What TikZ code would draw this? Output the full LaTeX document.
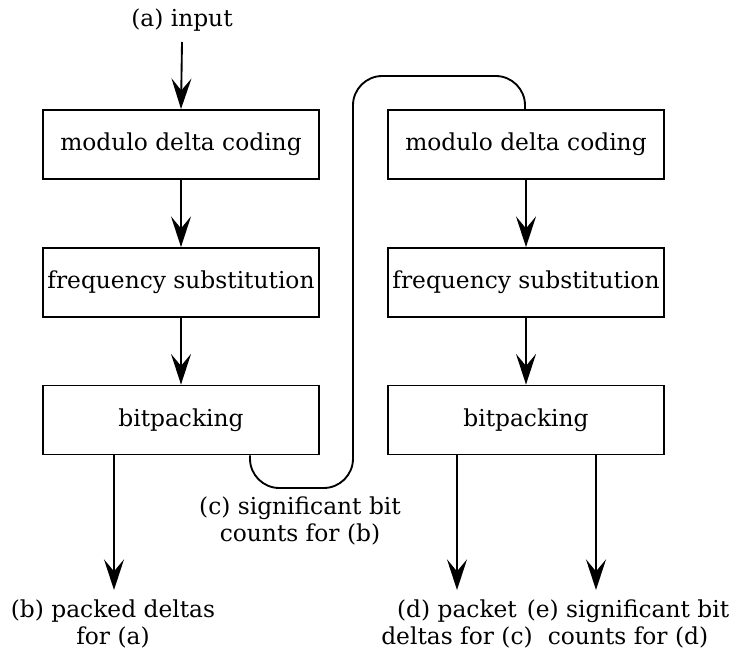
\documentclass[tikz,border=0pt]{standalone}
\usepackage{fontspec}
\setmainfont{DejaVu Serif}
\usepackage{tikz}
\usetikzlibrary{arrows.meta}

\tikzset{
  stage/.style={draw, line width=1.4pt, minimum width=207pt, minimum height=51.75pt, inner sep=0pt},
  label/.style={align=center, inner sep=0pt},
  flow/.style={line width=1.4pt, -{Stealth[length=23pt, width=15pt, inset=9pt]}},
}

\begin{document}
\begin{tikzpicture}[x=0.75pt, y=-0.75pt, font=\fontsize{17.5}{20}\selectfont]
\useasboundingbox (0,0) rectangle (731,652);
% left chain
\node[label] (input) at (182,20) {(a) input};
\node[stage] (lmod) at (181,144.5) {modulo delta coding};
\node[stage] (lfreq) at (181,282.5) {frequency substitution};
\node[stage] (lbit) at (181,420) {bitpacking};
\node[label] (outb) at (113,624) {(b) packed deltas\\for (a)};
% right chain
\node[stage] (rmod) at (526,144.5) {modulo delta coding};
\node[stage] (rfreq) at (526,282.5) {frequency substitution};
\node[stage] (rbit) at (526,420) {bitpacking};
\node[label] (outd) at (457,624) {(d) packet\\deltas for (c)};
\node[label] (oute) at (628,624) {(e) significant bit\\counts for (d)};
\node[label] (sigc) at (300,521) {(c) significant bit\\counts for (b)};
\coordinate (endb) at (114,590);
\coordinate (endd) at (457,590);
\coordinate (ende) at (596,590);

\draw[flow] (input.south |- 0,42) -- (lmod.north);
\draw[flow] (lmod) -- (lfreq);
\draw[flow] (lfreq) -- (lbit);
\draw[flow] (lbit.south -| endb) -- (endb);
\draw[flow] (rmod) -- (rfreq);
\draw[flow] (rfreq) -- (rbit);
\draw[flow] (rbit.south -| endd) -- (endd);
\draw[flow] (rbit.south -| ende) -- (ende);
% link between the two chains
\draw[line width=1.4pt, rounded corners=22pt] (lbit.south -| 250,0) |- (353,488) |- (525,76) -- (rmod.north -| 525,0);
\end{tikzpicture}
\end{document}
